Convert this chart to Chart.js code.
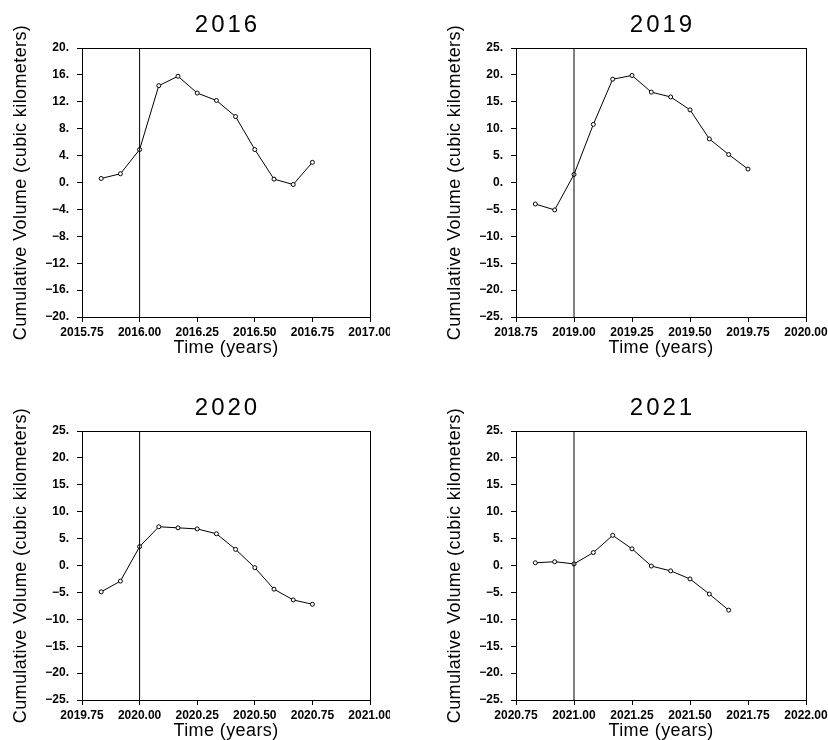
<!DOCTYPE html>
<html><head><meta charset="utf-8">
<script src="https://cdn.jsdelivr.net/npm/chart.js@4/dist/chart.umd.min.js"></script>
<style>
html,body{margin:0;padding:0;background:#fff;width:828px;height:740px;overflow:hidden;position:relative}
canvas{position:absolute}
</style></head><body>
<canvas id="c1" width="390" height="370" style="left:0;top:0;width:390px;height:370px"></canvas>
<canvas id="c2" width="414" height="370" style="left:414px;top:0;width:414px;height:370px"></canvas>
<canvas id="c3" width="390" height="370" style="left:0;top:370px;width:390px;height:370px"></canvas>
<canvas id="c4" width="414" height="370" style="left:414px;top:370px;width:414px;height:370px"></canvas>
<script>
// ---- data ----
const titles = ['2016', '2019', '2020', '2021'];
const yAxisTitle = 'Cumulative Volume (cubic kilometers)';
const xAxisTitle = 'Time (years)';

const time2016 = [2015.8333, 2015.9167, 2016.0, 2016.0833, 2016.1667, 2016.25, 2016.3333, 2016.4167, 2016.5, 2016.5833, 2016.6667, 2016.75];
const vol2016  = [0.6, 1.3, 4.9, 14.4, 15.8, 13.3, 12.2, 9.8, 4.9, 0.5, -0.3, 3.0];

const time2019 = [2018.8333, 2018.9167, 2019.0, 2019.0833, 2019.1667, 2019.25, 2019.3333, 2019.4167, 2019.5, 2019.5833, 2019.6667, 2019.75];
const vol2019  = [-4.0, -5.1, 1.5, 10.8, 19.2, 19.9, 16.8, 15.9, 13.5, 8.1, 5.2, 2.5];

const time2020 = [2019.8333, 2019.9167, 2020.0, 2020.0833, 2020.1667, 2020.25, 2020.3333, 2020.4167, 2020.5, 2020.5833, 2020.6667, 2020.75];
const vol2020  = [-4.9, -2.9, 3.5, 7.2, 7.0, 6.8, 5.9, 3.0, -0.4, -4.4, -6.4, -7.2];

const time2021 = [2020.8333, 2020.9167, 2021.0, 2021.0833, 2021.1667, 2021.25, 2021.3333, 2021.4167, 2021.5, 2021.5833, 2021.6667];
const vol2021  = [0.5, 0.7, 0.3, 2.4, 5.6, 3.1, -0.1, -1.0, -2.5, -5.3, -8.3];

const refYears = [2016.0, 2019.0, 2020.0, 2021.0];

const xTicks2016 = [2015.75, 2016.00, 2016.25, 2016.50, 2016.75, 2017.00];
const xTicks2019 = [2018.75, 2019.00, 2019.25, 2019.50, 2019.75, 2020.00];
const xTicks2020 = [2019.75, 2020.00, 2020.25, 2020.50, 2020.75, 2021.00];
const xTicks2021 = [2020.75, 2021.00, 2021.25, 2021.50, 2021.75, 2022.00];

const yTicks2016 = [-20, -16, -12, -8, -4, 0, 4, 8, 12, 16, 20];
const yTicksOther = [-25, -20, -15, -10, -5, 0, 5, 10, 15, 20, 25];

// ---- drawing ----
Chart.defaults.font.family = '"Liberation Sans", Arial, sans-serif';
Chart.defaults.color = '#000';

const framePlugin = {
  id: 'frame',
  afterDraw(chart, args, opts) {
    const ctx = chart.ctx, a = chart.chartArea;
    ctx.save();
    ctx.strokeStyle = '#000';
    ctx.lineWidth = 1;
    const l = Math.round(a.left), t = Math.round(a.top), r = Math.round(a.right), b = Math.round(a.bottom);
    ctx.strokeRect(l + 0.5, t + 0.5, r - l, b - t);
    ctx.fillStyle = '#000';
    ctx.textAlign = 'center';
    ctx.textBaseline = 'middle';
    const cx = (a.left + a.right) / 2, cy = (a.top + a.bottom) / 2;
    ctx.font = '24px "Liberation Sans", Arial, sans-serif';
    ctx.letterSpacing = '3px';
    ctx.fillText(opts.title, cx + 1.5, a.top - 23);
    ctx.font = '18px "Liberation Sans", Arial, sans-serif';
    ctx.letterSpacing = '0.4px';
    ctx.fillText(xAxisTitle, cx, a.bottom + 31);
    ctx.translate(a.left - 61, cy);
    ctx.rotate(-Math.PI / 2);
    ctx.fillText(yAxisTitle, 0, 0);
    ctx.restore();
  }
};

function fmtY(v) { return (v < 0 ? '\u2212' : '') + Math.abs(v) + '.'; }

function makeChart(id, title, times, vols, refYear, xTicks, yTicks, plot, canvasW, canvasH) {
  const pts = times.map((t, i) => ({ x: t, y: vols[i] }));
  const yMin = yTicks[0], yMax = yTicks[yTicks.length - 1];
  const xMin = xTicks[0], xMax = xTicks[xTicks.length - 1];
  new Chart(document.getElementById(id), {
    type: 'scatter',
    data: {
      datasets: [
        {
          data: [{ x: refYear, y: yMin }, { x: refYear, y: yMax }],
          showLine: true, borderColor: '#000', borderWidth: 1, pointRadius: 0, fill: false
        },
        {
          data: pts,
          showLine: true, tension: 0, borderColor: '#000', borderWidth: 1,
          pointRadius: 2, pointBorderWidth: 1, pointBorderColor: '#000',
          pointBackgroundColor: '#fff', fill: false
        }
      ]
    },
    options: {
      responsive: false,
      animation: false,
      devicePixelRatio: 1,
      layout: { padding: { left: 0, top: plot.T, right: canvasW - plot.R, bottom: 0 } },
      plugins: { legend: { display: false }, tooltip: { enabled: false }, title: { display: false }, frame: { title } },
      scales: {
        x: {
          type: 'linear', min: xMin, max: xMax,
          afterBuildTicks(s) { s.ticks = xTicks.map(v => ({ value: v })); },
          afterFit(s) { s.height = canvasH - plot.B; s.paddingLeft = 0; s.paddingRight = 0; },
          ticks: { callback: v => v.toFixed(2), font: { size: 12, weight: 'bold' }, color: '#000', padding: 3, maxRotation: 0, autoSkip: false },
          grid: { drawOnChartArea: false, tickLength: 5, color: '#000', lineWidth: 1 },
          border: { display: false }
        },
        y: {
          type: 'linear', min: yMin, max: yMax,
          afterBuildTicks(s) { s.ticks = yTicks.map(v => ({ value: v })); },
          afterFit(s) { s.width = plot.L; s.paddingTop = 0; s.paddingBottom = 0; },
          ticks: { callback: v => fmtY(v), font: { size: 12, weight: 'bold' }, color: '#000', padding: 8, autoSkip: false },
          grid: { drawOnChartArea: false, tickLength: 5, color: '#000', lineWidth: 1 },
          border: { display: false }
        }
      }
    },
    plugins: [framePlugin]
  });
}

makeChart('c1', titles[0], time2016, vol2016, refYears[0], xTicks2016, yTicks2016, { L: 82, R: 370, T: 48, B: 317 }, 390, 370);
makeChart('c2', titles[1], time2019, vol2019, refYears[1], xTicks2019, yTicksOther, { L: 102, R: 392, T: 48, B: 317 }, 414, 370);
makeChart('c3', titles[2], time2020, vol2020, refYears[2], xTicks2020, yTicksOther, { L: 82, R: 370, T: 61, B: 330 }, 390, 370);
makeChart('c4', titles[3], time2021, vol2021, refYears[3], xTicks2021, yTicksOther, { L: 102, R: 392, T: 61, B: 330 }, 414, 370);
</script>
</body></html>
